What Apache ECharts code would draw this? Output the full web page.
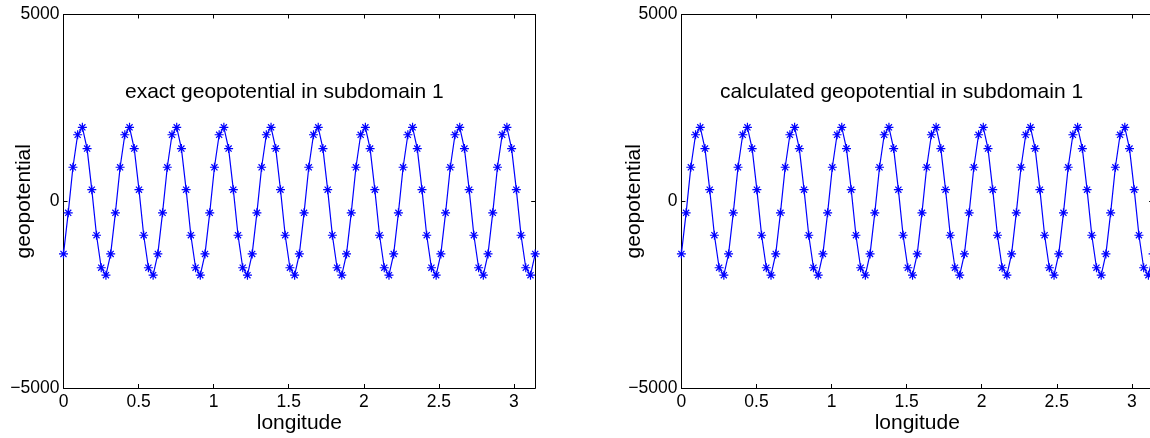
<!DOCTYPE html>
<html>
<head>
<meta charset="utf-8">
<script src="https://cdn.jsdelivr.net/npm/echarts@6.0.0/dist/echarts.min.js"></script>
<style>
  html, body { margin: 0; padding: 0; background: #fff; }
  #chart { width: 1150px; height: 438px; }
</style>
</head>
<body>
<div id="chart"></div>
<script>
// longitude samples (0 .. pi, 101 points)
const lon = [
  0, 0.0314, 0.0628, 0.0942, 0.1257, 0.1571, 0.1885, 0.2199, 0.2513, 0.2827,
  0.3142, 0.3456, 0.3770, 0.4084, 0.4398, 0.4712, 0.5027, 0.5341, 0.5655, 0.5969,
  0.6283, 0.6597, 0.6912, 0.7226, 0.7540, 0.7854, 0.8168, 0.8482, 0.8796, 0.9111,
  0.9425, 0.9739, 1.0053, 1.0367, 1.0681, 1.0996, 1.1310, 1.1624, 1.1938, 1.2252,
  1.2566, 1.2881, 1.3195, 1.3509, 1.3823, 1.4137, 1.4451, 1.4765, 1.5080, 1.5394,
  1.5708, 1.6022, 1.6336, 1.6650, 1.6965, 1.7279, 1.7593, 1.7907, 1.8221, 1.8535,
  1.8850, 1.9164, 1.9478, 1.9792, 2.0106, 2.0420, 2.0735, 2.1049, 2.1363, 2.1677,
  2.1991, 2.2305, 2.2619, 2.2934, 2.3248, 2.3562, 2.3876, 2.4190, 2.4504, 2.4819,
  2.5133, 2.5447, 2.5761, 2.6075, 2.6389, 2.6704, 2.7018, 2.7332, 2.7646, 2.7960,
  2.8274, 2.8588, 2.8903, 2.9217, 2.9531, 2.9845, 3.0159, 3.0473, 3.0788, 3.1102,
  3.1416
]

// exact geopotential
const exact = [
  -1410, -310, 910, 1780, 1980, 1410, 310, -910, -1780, -1980,
  -1410, -310, 910, 1780, 1980, 1410, 310, -910, -1780, -1980,
  -1410, -310, 910, 1780, 1980, 1410, 310, -910, -1780, -1980,
  -1410, -310, 910, 1780, 1980, 1410, 310, -910, -1780, -1980,
  -1410, -310, 910, 1780, 1980, 1410, 310, -910, -1780, -1980,
  -1410, -310, 910, 1780, 1980, 1410, 310, -910, -1780, -1980,
  -1410, -310, 910, 1780, 1980, 1410, 310, -910, -1780, -1980,
  -1410, -310, 910, 1780, 1980, 1410, 310, -910, -1780, -1980,
  -1410, -310, 910, 1780, 1980, 1410, 310, -910, -1780, -1980,
  -1410, -310, 910, 1780, 1980, 1410, 310, -910, -1780, -1980,
  -1410
]

// calculated geopotential
const calculated = [
  -1410, -310, 910, 1780, 1980, 1410, 310, -910, -1780, -1980,
  -1410, -310, 910, 1780, 1980, 1410, 310, -910, -1780, -1980,
  -1410, -310, 910, 1780, 1980, 1410, 310, -910, -1780, -1980,
  -1410, -310, 910, 1780, 1980, 1410, 310, -910, -1780, -1980,
  -1410, -310, 910, 1780, 1980, 1410, 310, -910, -1780, -1980,
  -1410, -310, 910, 1780, 1980, 1410, 310, -910, -1780, -1980,
  -1410, -310, 910, 1780, 1980, 1410, 310, -910, -1780, -1980,
  -1410, -310, 910, 1780, 1980, 1410, 310, -910, -1780, -1980,
  -1410, -310, 910, 1780, 1980, 1410, 310, -910, -1780, -1980,
  -1410, -310, 910, 1780, 1980, 1410, 310, -910, -1780, -1980,
  -1410
]

const xTicks = [0, 0.5, 1, 1.5, 2, 2.5, 3]
const yTicks = [-5000, 0, 5000]

const font = "'Liberation Sans', Arial, sans-serif"
const asterisk = 'path://M5 0L5 10M0 5L10 5M1.6 1.6L8.4 8.4M1.6 8.4L8.4 1.6'

const grids = [
  { left: 63.5, top: 14.5, width: 471.7, height: 373.5, outerBoundsMode: 'none', containLabel: false },
  { left: 681.4, top: 14.5, width: 471.7, height: 373.5, outerBoundsMode: 'none', containLabel: false }
]
const yNameGaps = [29, 37]

function fmtY (v) {
  return String(v).replace('-', '\u2212')
}

const xAxes = []
const yAxes = []
grids.forEach((g, i) => {
  // bottom axis with labels
  xAxes.push({
    type: 'value',
    gridIndex: i,
    position: 'bottom',
    min: 0,
    max: 3.1416,
    name: 'longitude',
    nameLocation: 'middle',
    nameGap: 25,
    nameMoveOverlap: false,
    nameTextStyle: { color: '#000', fontSize: 21, fontFamily: font },
    axisLine: { show: true, onZero: false, lineStyle: { color: '#000', width: 1 } },
    axisTick: { show: true, inside: true, length: 4, customValues: xTicks, lineStyle: { color: '#000' } },
    axisLabel: { color: '#000', fontSize: 17.5, fontFamily: font, margin: 5, customValues: xTicks },
    splitLine: { show: false }
  })
  // top box edge
  xAxes.push({
    type: 'value',
    gridIndex: i,
    position: 'top',
    min: 0,
    max: 3.1416,
    axisLine: { show: true, onZero: false, lineStyle: { color: '#000', width: 1 } },
    axisTick: { show: true, inside: true, length: 4, customValues: xTicks, lineStyle: { color: '#000' } },
    axisLabel: { show: false },
    splitLine: { show: false }
  })
  yAxes.push({
    type: 'value',
    gridIndex: i,
    position: 'left',
    min: -5000,
    max: 5000,
    interval: 5000,
    name: 'geopotential',
    nameLocation: 'middle',
    nameGap: yNameGaps[i],
    nameMoveOverlap: false,
    nameRotate: 90,
    nameTextStyle: { color: '#000', fontSize: 21, fontFamily: font },
    axisLine: { show: true, onZero: false, lineStyle: { color: '#000', width: 1 } },
    axisTick: { show: true, inside: true, length: 4, customValues: yTicks, lineStyle: { color: '#000' } },
    axisLabel: { color: '#000', fontSize: 17.5, fontFamily: font, margin: 4, formatter: fmtY, customValues: yTicks },
    splitLine: { show: false }
  })
  yAxes.push({
    type: 'value',
    gridIndex: i,
    position: 'right',
    min: -5000,
    max: 5000,
    interval: 5000,
    axisLine: { show: true, onZero: false, lineStyle: { color: '#000', width: 1 } },
    axisTick: { show: true, inside: true, length: 4, customValues: yTicks, lineStyle: { color: '#000' } },
    axisLabel: { show: false },
    splitLine: { show: false }
  })
})

function seriesFor (values, i) {
  return {
    type: 'line',
    xAxisIndex: i * 2,
    yAxisIndex: i * 2,
    data: lon.map((x, k) => [x, values[k]]),
    showSymbol: true,
    showAllSymbol: true,
    symbol: asterisk,
    symbolSize: 9,
    lineStyle: { color: '#0000ff', width: 1.2 },
    itemStyle: { color: '#0000ff', borderColor: '#0000ff', borderWidth: 1.2 },
    emphasis: { disabled: true }
  }
}

const option = {
  animation: false,
  backgroundColor: '#fff',
  title: [
    {
      text: 'exact geopotential in subdomain 1',
      left: 125,
      top: 82,
      padding: 0,
      textStyle: { color: '#000', fontSize: 21, fontWeight: 'normal', fontFamily: font }
    },
    {
      text: 'calculated geopotential in subdomain 1',
      left: 720,
      top: 82,
      padding: 0,
      textStyle: { color: '#000', fontSize: 21, fontWeight: 'normal', fontFamily: font }
    }
  ],
  grid: grids,
  xAxis: xAxes,
  yAxis: yAxes,
  series: [seriesFor(exact, 0), seriesFor(calculated, 1)]
}

const chart = echarts.init(document.getElementById('chart'), null, { renderer: 'canvas' })
chart.setOption(option)
window.addEventListener('resize', () => {
  chart.resize()
})
</script>
</body>
</html>
